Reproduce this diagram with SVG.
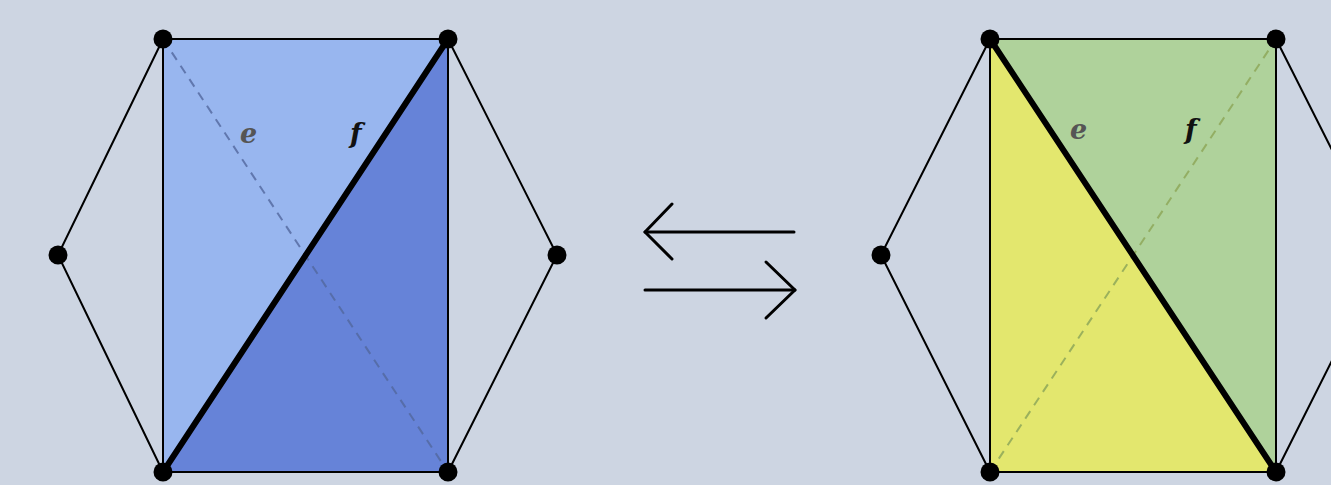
<svg xmlns="http://www.w3.org/2000/svg" width="1331" height="485" viewBox="0 0 1331 485">
<defs>
<style>
.edge{stroke:#000;stroke-width:2;fill:none}
.thick{stroke:#000;stroke-width:6;fill:none;stroke-linecap:round}
.dot{fill:#000}
.lbl{font-family:"DejaVu Serif","Liberation Serif",serif;font-weight:bold;font-style:italic;font-size:27px}
.arrow{stroke:#000;stroke-width:3;fill:none;stroke-linecap:round;stroke-linejoin:round}
</style>
</defs>
<rect width="1331" height="485" fill="#cdd5e2"/>
<g id="left">
<polygon points="163,39 448,39 163,472" fill="#98b6ef"/>
<polygon points="448,39 448,472 163,472" fill="#6683d8"/>
<line x1="163" y1="39" x2="448" y2="472" stroke="#53689e" stroke-width="2" stroke-dasharray="9,7" opacity="0.8"/>
<polyline class="edge" points="163,39 58,255 163,472"/>
<polyline class="edge" points="448,39 557,255 448,472"/>
<rect class="edge" x="163" y="39" width="285" height="433"/>
<line class="thick" x1="163" y1="472" x2="448" y2="39"/>
<text class="lbl" x="240" y="143" fill="#555">e</text>
<text class="lbl" x="350" y="143" fill="#111">f</text>
<circle class="dot" cx="163" cy="39" r="9.5"/>
<circle class="dot" cx="448" cy="39" r="9.5"/>
<circle class="dot" cx="58" cy="255" r="9.5"/>
<circle class="dot" cx="557" cy="255" r="9.5"/>
<circle class="dot" cx="163" cy="472" r="9.5"/>
<circle class="dot" cx="448" cy="472" r="9.5"/>
</g>
<g id="arrows">
<line class="arrow" x1="645" y1="232" x2="794" y2="232"/>
<polyline class="arrow" points="672,204 645,232 672,259"/>
<line class="arrow" x1="645" y1="290" x2="795" y2="290"/>
<polyline class="arrow" points="766,262 795,290 766,318"/>
</g>
<g id="right">
<polygon points="990,39 1276,39 1276,472" fill="#afd29b"/>
<polygon points="990,39 1276,472 990,472" fill="#e3e76e"/>
<line x1="990" y1="472" x2="1276" y2="39" stroke="#8fa85a" stroke-width="2" stroke-dasharray="9,7" opacity="0.85"/>
<polyline class="edge" points="990,39 881,255 990,472"/>
<polyline class="edge" points="1276,39 1385,255 1276,472"/>
<rect class="edge" x="990" y="39" width="286" height="433"/>
<line class="thick" x1="990" y1="39" x2="1276" y2="472"/>
<text class="lbl" x="1070" y="139" fill="#555">e</text>
<text class="lbl" x="1185" y="139" fill="#111">f</text>
<circle class="dot" cx="990" cy="39" r="9.5"/>
<circle class="dot" cx="1276" cy="39" r="9.5"/>
<circle class="dot" cx="881" cy="255" r="9.5"/>
<circle class="dot" cx="990" cy="472" r="9.5"/>
<circle class="dot" cx="1276" cy="472" r="9.5"/>
</g>
</svg>
